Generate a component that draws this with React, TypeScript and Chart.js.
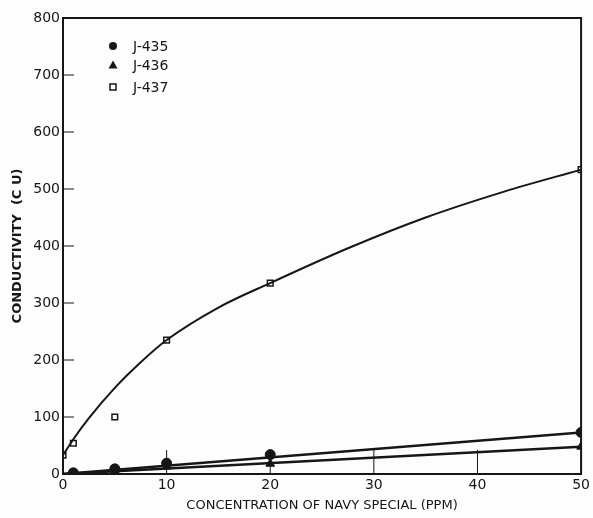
import React, { useEffect, useRef } from "react";
import { Chart, registerables } from "chart.js";

Chart.register(...registerables);

// Measured points
const j435X = [1, 5, 10, 20, 50];
const j435Y = [2, 9, 19, 34, 73];
const j436X = [1, 5, 10, 20, 50];
const j436Y = [1, 6, 13, 18, 48];
const j437X = [0, 1, 5, 10, 20, 50];
const j437Y = [33, 54, 100, 235, 335, 534];

// Hand-drawn fitted curves
const j437CurveX = [0, 1, 2.5, 5, 7.5, 10, 15, 20, 27.5, 35, 42.5, 50];
const j437CurveY = [33, 61, 98, 151, 196, 235, 292, 335, 396, 450, 495, 534];
const j435LineX = [0, 50];
const j435LineY = [0, 73];
const j436LineX = [0, 50];
const j436LineY = [0, 48];

const xTicks = [0, 10, 20, 30, 40, 50];
const yTicks = [0, 100, 200, 300, 400, 500, 600, 700, 800];

const legendLabels = ["J-435", "J-436", "J-437"];
const legendStyles = ["circle", "triangle", "rect"];

const INK = "#161616";
const FONT = "'DejaVu Sans', sans-serif";

const zip = (xs: number[], ys: number[]) => xs.map((x, i) => ({ x, y: ys[i] }));

const boxPlugin = {
  id: "boxAndTicks",
  afterDraw(chart: any) {
    const { ctx, chartArea } = chart;
    const xs = chart.scales.x;
    const ys = chart.scales.y;
    ctx.save();
    ctx.strokeStyle = INK;
    ctx.lineWidth = 2;
    ctx.strokeRect(chartArea.left, chartArea.top, chartArea.right - chartArea.left, chartArea.bottom - chartArea.top);
    ctx.lineWidth = 1;
    yTicks.forEach((v) => {
      const py = ys.getPixelForValue(v);
      ctx.beginPath();
      ctx.moveTo(chartArea.left, py);
      ctx.lineTo(chartArea.left + 11, py);
      ctx.stroke();
    });
    xTicks.forEach((v) => {
      const px = xs.getPixelForValue(v);
      ctx.beginPath();
      ctx.moveTo(px, chartArea.bottom);
      ctx.lineTo(px, chartArea.bottom - 24);
      ctx.stroke();
    });
    // legend
    ctx.font = `14px ${FONT}`;
    ctx.fillStyle = INK;
    ctx.textBaseline = "middle";
    const lx = chartArea.left + 50;
    const rows = [46, 65, 87];
    legendLabels.forEach((lab, i) => {
      const y = rows[i];
      ctx.beginPath();
      if (legendStyles[i] === "circle") {
        ctx.arc(lx, y, 4, 0, Math.PI * 2);
        ctx.fill();
      } else if (legendStyles[i] === "triangle") {
        ctx.moveTo(lx, y - 4.5);
        ctx.lineTo(lx + 4.5, y + 3.5);
        ctx.lineTo(lx - 4.5, y + 3.5);
        ctx.closePath();
        ctx.fill();
      } else {
        ctx.lineWidth = 1.5;
        ctx.strokeRect(lx - 3, y - 3, 6, 6);
      }
      ctx.fillText(lab, lx + 20, y + 1);
    });
    ctx.restore();
  },
};

const bgPlugin = {
  id: "bg",
  beforeDraw(chart: any) {
    const { ctx, width, height } = chart;
    ctx.save();
    ctx.fillStyle = "#fdfdfd";
    ctx.fillRect(0, 0, width, height);
    ctx.restore();
  },
};

export default function App() {
  const ref = useRef<HTMLCanvasElement | null>(null);
  useEffect(() => {
    if (!ref.current) return;
    const lineDs = (data: any[], w = 2) => ({
      type: "line" as const,
      data,
      borderColor: INK,
      borderWidth: w,
      pointRadius: 0,
      fill: false,
      showLine: true,
    });
    const chart = new Chart(ref.current, {
      type: "scatter",
      data: {
        datasets: [
          { ...lineDs(zip(j437CurveX, j437CurveY)), cubicInterpolationMode: "monotone" as const },
          lineDs(zip(j435LineX, j435LineY), 2.5),
          lineDs(zip(j436LineX, j436LineY), 2.5),
          {
            label: "J-435",
            data: zip(j435X, j435Y),
            pointStyle: "circle",
            pointRadius: 5,
            backgroundColor: INK,
            borderColor: INK,
          },
          {
            label: "J-436",
            data: zip(j436X, j436Y),
            pointStyle: "triangle",
            pointRadius: 5,
            backgroundColor: INK,
            borderColor: INK,
          },
          {
            label: "J-437",
            data: zip(j437X, j437Y),
            pointStyle: "rect",
            pointRadius: 4,
            borderWidth: 1.5,
            backgroundColor: "#ffffff",
            borderColor: INK,
          },
        ] as any,
      },
      options: {
        animation: false,
        responsive: false,
        maintainAspectRatio: false,
        layout: { padding: { top: 18, right: 7, left: 0, bottom: 0 } },
        plugins: { legend: { display: false }, tooltip: { enabled: false } },
        scales: {
          x: {
            type: "linear",
            min: 0,
            max: 50,
            ticks: { stepSize: 10, color: INK, font: { family: FONT, size: 14 }, padding: 3 },
            grid: { display: false, drawTicks: false },
            border: { display: false },
            title: {
              display: true,
              text: "CONCENTRATION OF NAVY SPECIAL (PPM)",
              color: INK,
              font: { family: FONT, size: 13 },
              padding: { top: 0, bottom: 5 },
            },
            afterFit: (s: any) => {
              s.height = 44;
            },
          },
          y: {
            type: "linear",
            min: 0,
            max: 800,
            ticks: { stepSize: 100, color: INK, font: { family: FONT, size: 14 }, padding: 3 },
            grid: { display: false, drawTicks: false },
            border: { display: false },
            title: {
              display: true,
              text: "CONDUCTIVITY  (C U)",
              color: INK,
              font: { family: FONT, size: 13, weight: "bold" },
              padding: { top: 10, bottom: 0 },
            },
            afterFit: (s: any) => {
              s.width = 63;
            },
          },
        },
      },
      plugins: [bgPlugin, boxPlugin],
    });
    return () => chart.destroy();
  }, []);
  return (
    <div style={{ position: "fixed", left: 0, top: 0, width: 593, height: 518, background: "#fdfdfd" }}>
      <canvas ref={ref} width={593} height={518} style={{ display: "block" }} />
    </div>
  );
}
